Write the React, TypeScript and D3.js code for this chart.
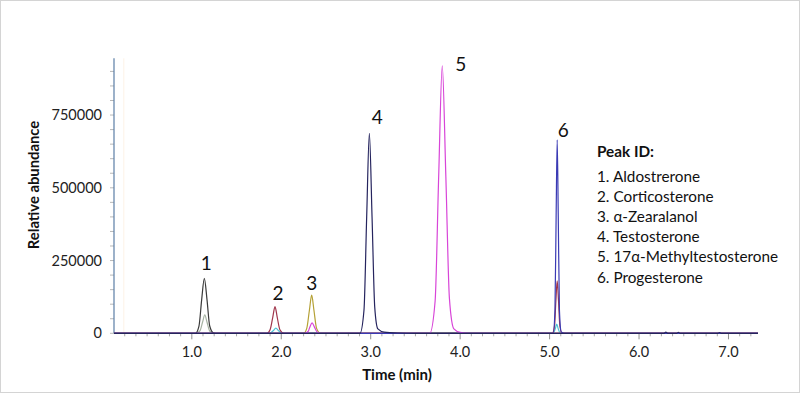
import { useEffect, useRef } from 'react';
import * as d3 from 'd3';

// Chromatogram traces, [time (min), abundance]
const TRACE_BLACK: [number, number][] = [
    [0.13, 0], [1.04, 0], [1.08, 25000], [1.11, 115000], [1.14, 189000],
    [1.17, 115000], [1.20, 25000], [1.24, 2000], [1.28, 0], [7.33, 0],
];
const TRACE_GREY: [number, number][] = [
    [0.13, 0], [1.05, 0], [1.09, 8000], [1.12, 38000], [1.145, 63000],
    [1.17, 38000], [1.20, 8000], [1.25, 0], [7.33, 0],
];
const TRACE_RED: [number, number][] = [
    [0.13, 0], [1.84, 0], [1.875, 12000], [1.905, 55000], [1.93, 91500],
    [1.955, 55000], [1.985, 12000], [2.03, 0],
    [5.03, 0], [5.055, 25000], [5.07, 110000], [5.085, 180000], [5.10, 110000],
    [5.115, 25000], [5.14, 0], [7.33, 0],
];
const TRACE_CYAN: [number, number][] = [
    [0.13, 0], [1.87, 0], [1.91, 9000], [1.94, 18000], [1.97, 9000], [2.01, 0],
    [5.04, 0], [5.065, 17000], [5.08, 32000], [5.095, 17000], [5.12, 0], [7.33, 0],
];
const TRACE_OLIVE: [number, number][] = [
    [0.13, 0], [2.25, 0], [2.285, 17000], [2.315, 80000], [2.34, 131000],
    [2.365, 80000], [2.395, 17000], [2.44, 0], [7.33, 0],
];
const TRACE_MAGENTA: [number, number][] = [
    [0.13, 0], [2.26, 0], [2.30, 6000], [2.32, 22000], [2.345, 36000],
    [2.37, 22000], [2.40, 5000], [2.44, 0],
    [3.66, 0], [3.72, 110000], [3.76, 540000], [3.80, 919000], [3.84, 540000],
    [3.88, 120000], [3.93, 15000], [4.0, 3000], [4.1, 0], [7.33, 0],
];
const TRACE_BLUE: [number, number][] = [
    [0.13, 0], [5.04, 0], [5.06, 80000], [5.073, 400000], [5.085, 665000],
    [5.097, 400000], [5.11, 80000], [5.13, 5000], [5.17, 0], [7.33, 0],
];
const TRACE_NAVY: [number, number][] = [
    [0.13, 0], [2.88, 0], [2.925, 80000], [2.955, 400000], [2.985, 687000],
    [3.015, 400000], [3.045, 90000], [3.08, 15000], [3.15, 4000], [3.3, 1000], [3.5, 0],
    [6.28, 0], [6.3, 4000], [6.32, 0], [6.42, 0], [6.44, 3000], [6.46, 0],
    [6.88, 0], [6.9, 2500], [6.92, 0], [7.33, 0],
];

const TRACES = [
    { data: TRACE_GREY, color: '#a7b3a3' },
    { data: TRACE_CYAN, color: '#4cc3d6' },
    { data: TRACE_OLIVE, color: '#b5a136' },
    { data: TRACE_RED, color: '#a0364c' },
    { data: TRACE_BLACK, color: '#3a3a3a' },
    { data: TRACE_MAGENTA, color: '#d845d8' },
    { data: TRACE_BLUE, color: '#3a3ab4' },
    { data: TRACE_NAVY, color: '#25245e' },
];

// Peak annotations
const PEAK_IDS = ['1', '2', '3', '4', '5', '6'];
const PEAK_TIMES = [1.14, 1.93, 2.34, 2.985, 3.80, 5.085];
const PEAK_HEIGHTS = [189000, 91500, 131000, 687000, 919000, 665000];
const LABEL_OFFSETS = [[2, -8], [3, -7], [0, -5], [8, -9], [13, 5], [6, -3]];

const LEGEND_TITLE = 'Peak ID:';
const COMPOUNDS = [
    '1. Aldostrerone',
    '2. Corticosterone',
    '3. α-Zearalanol',
    '4. Testosterone',
    '5. 17α-Methyltestosterone',
    '6. Progesterone',
];

const X_DOMAIN = [0.13, 7.33];
const X_TICKS = [1, 2, 3, 4, 5, 6, 7];
const Y_DOMAIN = [0, 945000];
const Y_TICKS = [0, 250000, 500000, 750000];
const MARKER_TIME = 0.24;

const FONT = 'Lato, "Open Sans", sans-serif';

export default function App() {
    const svgRef = useRef<SVGSVGElement>(null);
    const width = 800;
    const height = 393;

    useEffect(() => {
        if (!svgRef.current) return;
        const svg = d3.select(svgRef.current);
        svg.selectAll('*').remove();

        svg.append('rect')
            .attr('x', 0.5).attr('y', 0.5)
            .attr('width', width - 1).attr('height', height - 1)
            .attr('fill', '#fff').attr('stroke', '#d4d4d4');

        const x = d3.scaleLinear().domain(X_DOMAIN).range([114, 758]);
        const y = d3.scaleLinear().domain(Y_DOMAIN).range([333.3, 58.3]);

        // faint marker line
        svg.append('line')
            .attr('x1', x(MARKER_TIME)).attr('x2', x(MARKER_TIME))
            .attr('y1', y(Y_DOMAIN[1])).attr('y2', y(0))
            .attr('stroke', '#fdf2e6').attr('stroke-width', 1);

        // y axis: minor ticks every 50000
        const yMinor = d3.range(0, Y_DOMAIN[1], 50000);
        svg.append('g').selectAll('line').data(yMinor).join('line')
            .attr('x1', 110).attr('x2', 114)
            .attr('y1', d => y(d)).attr('y2', d => y(d))
            .attr('stroke', '#b8b8b8');
        svg.append('g').selectAll('text').data(Y_TICKS).join('text')
            .attr('x', 102).attr('y', d => y(d))
            .attr('dy', '0.35em')
            .attr('text-anchor', 'end')
            .style('font-family', FONT).style('font-size', '14.5px').style('fill', '#222')
            .text(d => String(d));
        svg.append('line')
            .attr('x1', 114).attr('x2', 114)
            .attr('y1', y(Y_DOMAIN[1])).attr('y2', y(0))
            .attr('stroke', '#5b7ea6').attr('stroke-width', 1.2);

        // x axis
        const xMinor = d3.range(0.25, X_DOMAIN[1], 0.125).filter(t => Math.abs(t - Math.round(t)) > 0.01);
        svg.append('g').selectAll('line').data(xMinor).join('line')
            .attr('x1', d => x(d)).attr('x2', d => x(d))
            .attr('y1', y(0)).attr('y2', y(0) + 3)
            .attr('stroke', '#a8a8a8');
        svg.append('g').selectAll('line').data(X_TICKS).join('line')
            .attr('x1', d => x(d)).attr('x2', d => x(d))
            .attr('y1', y(0)).attr('y2', y(0) + 6)
            .attr('stroke', '#909090');
        svg.append('g').selectAll('text').data(X_TICKS).join('text')
            .attr('x', d => x(d)).attr('y', 357)
            .attr('text-anchor', 'middle')
            .style('font-family', FONT).style('font-size', '14.5px').style('fill', '#222')
            .text(d => d.toFixed(1));
        svg.append('line')
            .attr('x1', 114).attr('x2', 758)
            .attr('y1', y(0)).attr('y2', y(0))
            .attr('stroke', '#7a7a7a');

        // traces
        const line = d3.line<[number, number]>()
            .x(d => x(d[0]))
            .y(d => y(d[1]))
            .curve(d3.curveMonotoneX);
        for (const tr of TRACES) {
            svg.append('path')
                .datum(tr.data)
                .attr('d', line)
                .attr('fill', 'none')
                .attr('stroke', tr.color)
                .attr('stroke-width', 1.2);
        }

        // peak labels
        PEAK_IDS.forEach((id, i) => {
            const [dx, dy] = LABEL_OFFSETS[i];
            svg.append('text')
                .attr('x', x(PEAK_TIMES[i]) + dx)
                .attr('y', y(PEAK_HEIGHTS[i]) + dy)
                .attr('text-anchor', i === 4 ? 'start' : 'middle')
                .style('font-family', FONT).style('font-size', '19px').style('fill', '#111')
                .text(id);
        });

        // axis titles
        svg.append('text')
            .attr('transform', 'translate(39,185) rotate(-90)')
            .attr('text-anchor', 'middle')
            .style('font-family', FONT).style('font-size', '14.8px').style('font-weight', 'bold').style('fill', '#111')
            .text('Relative abundance');
        svg.append('text')
            .attr('x', 397).attr('y', 380)
            .attr('text-anchor', 'middle')
            .style('font-family', FONT).style('font-size', '15px').style('font-weight', 'bold').style('fill', '#111')
            .text('Time (min)');

        // legend
        const lg = svg.append('g').attr('transform', 'translate(597,0)');
        lg.append('text')
            .attr('x', 0).attr('y', 157)
            .style('font-family', FONT).style('font-size', '15.3px').style('font-weight', 'bold').style('fill', '#111')
            .text(LEGEND_TITLE);
        COMPOUNDS.forEach((c, i) => {
            lg.append('text')
                .attr('x', 0).attr('y', 181.5 + i * 20.2)
                .style('font-family', FONT).style('font-size', '15.3px').style('fill', '#111')
                .text(c);
        });
    }, []);

    return (
        <div style={{ position: 'absolute', left: 0, top: 0 }}>
            <svg ref={svgRef} width={width} height={height} style={{ display: 'block' }} />
        </div>
    );
}
